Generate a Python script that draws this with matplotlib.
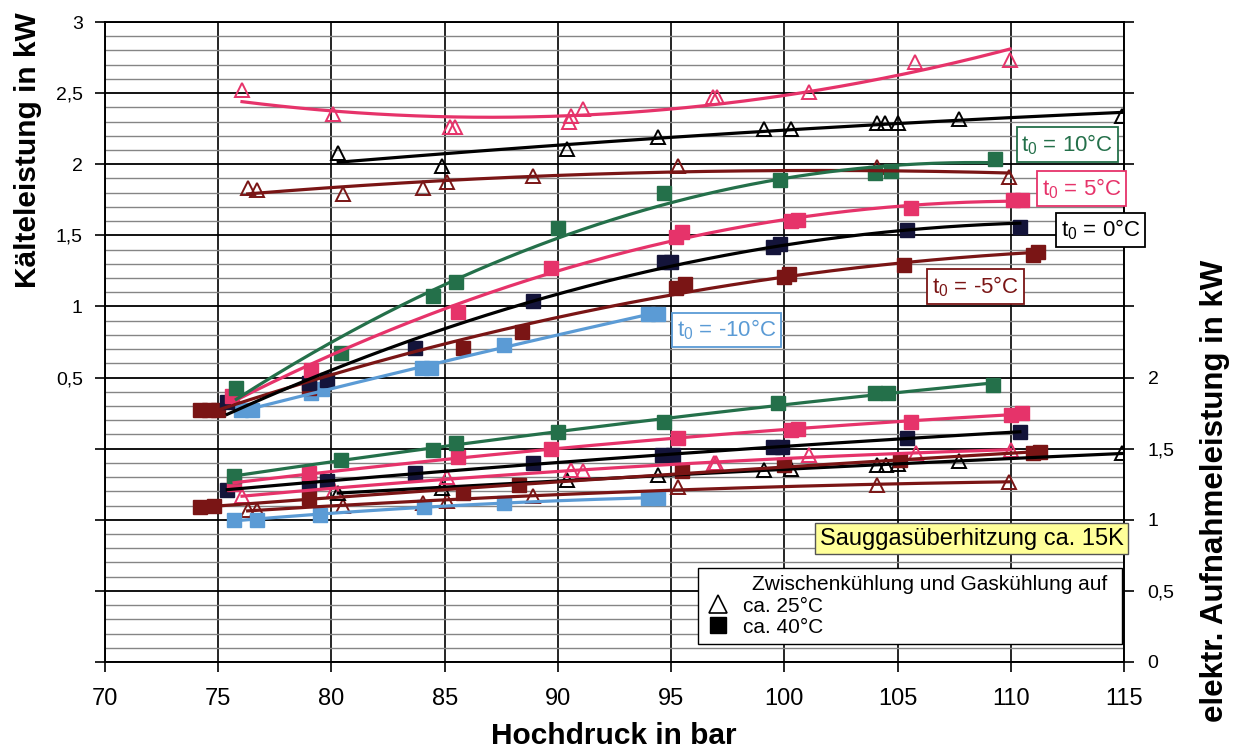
import numpy as np
import matplotlib
matplotlib.use('Agg')
import matplotlib.pyplot as plt
from matplotlib.lines import Line2D
from matplotlib.ticker import FuncFormatter

plt.rcParams['font.family'] = ['Liberation Sans', 'DejaVu Sans']
plt.rcParams['mathtext.fontset'] = 'custom'
plt.rcParams['mathtext.rm'] = 'Liberation Sans'

# --- Kälteleistung (left axis), Zwischenkühlung ca. 40°C (squares) ---
q_x_10 = [75.8, 80.4, 84.5, 85.5, 90.0, 94.7, 99.8, 104.0, 104.7, 109.3]
q_y_10 = [0.43, 0.67, 1.07, 1.17, 1.55, 1.80, 1.89, 1.94, 1.95, 2.04]
q_x_5 = [75.6, 79.1, 85.6, 89.7, 95.2, 95.5, 100.3, 100.6, 105.6, 110.1, 110.5]
q_y_5 = [0.37, 0.55, 0.96, 1.27, 1.49, 1.52, 1.60, 1.61, 1.69, 1.745, 1.745]
q_x_0 = [75.4, 79.0, 79.8, 83.7, 88.9, 94.7, 95.0, 99.5, 99.8, 105.4, 110.4]
q_y_0 = [0.33, 0.46, 0.48, 0.71, 1.04, 1.31, 1.31, 1.42, 1.44, 1.54, 1.56]
q_x_m5 = [74.2, 74.6, 75.0, 79.0, 85.8, 88.4, 95.2, 95.6, 100.0, 100.2, 105.3, 111.0, 111.2]
q_y_m5 = [0.27, 0.27, 0.27, 0.43, 0.71, 0.82, 1.13, 1.16, 1.21, 1.23, 1.29, 1.36, 1.38]
q_x_m10 = [76.0, 76.5, 79.1, 79.6, 84.0, 84.4, 87.6, 94.0, 94.4]
q_y_m10 = [0.27, 0.27, 0.39, 0.42, 0.57, 0.57, 0.73, 0.95, 0.95]

# --- Kälteleistung (left axis), ca. 25°C (triangles) ---
tq_x_5 = [76.05, 80.07, 85.24, 85.46, 90.5, 90.6, 91.1, 96.86, 97.03, 101.1, 105.78, 109.97]
tq_y_5 = [2.52, 2.35, 2.26, 2.26, 2.30, 2.34, 2.39, 2.47, 2.47, 2.51, 2.72, 2.73]
tq_x_0 = [80.3, 84.9, 90.4, 94.4, 99.1, 100.3, 104.1, 104.45, 105.0, 107.7, 114.9]
tq_y_0 = [2.08, 1.99, 2.11, 2.19, 2.25, 2.25, 2.29, 2.29, 2.29, 2.32, 2.34]
tq_x_m5 = [76.3, 76.7, 80.5, 84.05, 85.1, 88.9, 95.3, 104.1, 109.9]
tq_y_m5 = [1.83, 1.82, 1.79, 1.83, 1.875, 1.92, 1.99, 1.98, 1.91]

# --- elektr. Aufnahmeleistung (right axis), ca. 40°C (squares) ---
p_x_10 = [75.7, 80.4, 84.5, 85.5, 90.0, 94.7, 99.7, 104.0, 104.6, 109.2]
p_y_10 = [1.31, 1.42, 1.49, 1.54, 1.62, 1.69, 1.82, 1.89, 1.89, 1.95]
p_x_5 = [75.7, 79.0, 85.6, 89.7, 95.3, 100.3, 100.6, 105.6, 110.0, 110.5]
p_y_5 = [1.25, 1.33, 1.44, 1.50, 1.575, 1.63, 1.64, 1.69, 1.74, 1.75]
p_x_0 = [75.4, 79.0, 79.8, 83.7, 88.9, 94.6, 95.1, 99.5, 99.9, 105.4, 110.4]
p_y_0 = [1.21, 1.26, 1.27, 1.33, 1.40, 1.455, 1.455, 1.51, 1.51, 1.575, 1.62]
p_x_m5 = [74.2, 74.8, 79.0, 85.8, 88.3, 95.5, 100.0, 105.1, 111.0, 111.3]
p_y_m5 = [1.09, 1.10, 1.15, 1.19, 1.245, 1.34, 1.385, 1.42, 1.47, 1.48]
p_x_m10 = [75.7, 76.7, 79.5, 84.1, 87.6, 94.0, 94.4]
p_y_m10 = [1.00, 1.00, 1.035, 1.09, 1.12, 1.155, 1.155]

# --- elektr. Aufnahmeleistung (right axis), ca. 25°C (triangles) ---
tp_x_5 = [76.05, 80.1, 85.1, 90.6, 91.1, 96.9, 97.0, 101.1, 105.8, 110.0]
tp_y_5 = [1.17, 1.21, 1.30, 1.35, 1.34, 1.40, 1.40, 1.455, 1.47, 1.49]
tp_x_0 = [80.3, 84.9, 90.4, 94.4, 99.1, 100.3, 104.1, 104.5, 105.0, 107.7, 114.9]
tp_y_0 = [1.19, 1.22, 1.28, 1.315, 1.35, 1.36, 1.385, 1.385, 1.39, 1.41, 1.47]
tp_x_m5 = [76.3, 76.7, 80.5, 84.05, 85.1, 88.9, 95.3, 104.1, 109.9]
tp_y_m5 = [1.07, 1.07, 1.10, 1.12, 1.13, 1.17, 1.23, 1.245, 1.265]

c_10 = '#24704a'
c_5 = '#e6336a'
c_0 = '#14143a'
c_m5 = '#7a1515'
c_m10 = '#5b9bd5'

fig = plt.figure(figsize=(12.38, 7.5), dpi=100)
ax = fig.add_axes([105 / 1238, 88 / 750, 1019 / 1238, 640 / 750])
ax.set_xlim(70, 115)
ax.set_ylim(-1.5, 3)
ax2 = ax.twinx()
ax2.set_ylim(0, 4.5)


def comma(v):
    return ('%g' % round(v, 2)).replace('.', ',')


ax.set_xticks(np.arange(70, 115.1, 5))
ax.set_yticks(np.arange(-1.5, 3.01, 0.5))
ax.set_yticks(np.arange(-1.5, 3.01, 0.1), minor=True)
ax.yaxis.set_major_formatter(FuncFormatter(lambda v, p: comma(v) if v > 0.45 else ''))
ax2.set_yticks(np.arange(0, 4.51, 0.5))
ax2.yaxis.set_major_formatter(FuncFormatter(lambda v, p: comma(v) if v < 2.05 else ''))

ax.grid(which='minor', axis='y', color='#858585', lw=1.0)
ax.grid(which='major', axis='y', color='black', lw=1.3)
ax.grid(which='major', axis='x', color='black', lw=1.2)
ax.set_axisbelow(True)
ax.tick_params(axis='y', which='minor', length=0)
ax.tick_params(axis='y', which='major', labelsize=14, length=7, width=1.2, pad=9)
ax.tick_params(axis='x', labelsize=17, length=7, width=1.2, pad=12)
ax2.tick_params(axis='y', labelsize=14, length=7, width=1.2, pad=10)
for a in (ax, ax2):
    for s in a.spines.values():
        s.set_linewidth(1.2)


def series(a, xs, ys, color, marker, line_color=None):
    # quadratic trend line through the measured points
    xs = np.array(xs)
    ys = np.array(ys)
    coef = np.polyfit(xs, ys, 2)
    xf = np.linspace(xs.min(), xs.max(), 200)
    if marker == 's':
        a.plot(xs, ys, 's', color=color, ms=9.5, zorder=3)
    else:
        a.plot(xs, ys, '^', mfc='none', mec=color, mew=1.4, ms=9.5, zorder=3)
    a.plot(xf, np.polyval(coef, xf), color=line_color or color, lw=2.3, zorder=4)


# upper group (Kälteleistung)
series(ax, tq_x_5, tq_y_5, c_5, '^')
series(ax, tq_x_0, tq_y_0, 'black', '^')
series(ax, tq_x_m5, tq_y_m5, c_m5, '^')
series(ax, q_x_m10, q_y_m10, c_m10, 's')
series(ax, q_x_m5, q_y_m5, c_m5, 's')
series(ax, q_x_0, q_y_0, c_0, 's', 'black')
series(ax, q_x_5, q_y_5, c_5, 's')
series(ax, q_x_10, q_y_10, c_10, 's')

# lower group (elektr. Aufnahmeleistung)
series(ax2, tp_x_m5, tp_y_m5, c_m5, '^')
series(ax2, tp_x_0, tp_y_0, 'black', '^')
series(ax2, tp_x_5, tp_y_5, c_5, '^')
series(ax2, p_x_m10, p_y_m10, c_m10, 's')
series(ax2, p_x_m5, p_y_m5, c_m5, 's')
series(ax2, p_x_0, p_y_0, c_0, 's', 'black')
series(ax2, p_x_5, p_y_5, c_5, 's')
series(ax2, p_x_10, p_y_10, c_10, 's')

t0_labels = [
    (112.5, 2.14, '10°C', c_10),
    (113.13, 1.83, '5°C', c_5),
    (113.97, 1.537, '0°C', 'black'),
    (108.43, 1.14, '-5°C', c_m5),
    (97.45, 0.834, '-10°C', c_m10),
]
for x, y, t, col in t0_labels:
    ax2.text(x, y, r'$\mathregular{t_0}$ = ' + t, transform=ax.transData, fontsize=16,
             color=col, ha='center', va='center', zorder=6,
             bbox=dict(boxstyle='square,pad=0.22', fc='white', ec=col, lw=1.3))

ax2.text(108.27, 0.868, 'Sauggasüberhitzung ca. 15K', fontsize=17, ha='center', va='center',
         zorder=8, bbox=dict(boxstyle='square,pad=0.2', fc='#ffff99', ec='#555555', lw=1.0))

handles = [Line2D([], [], marker='^', ls='none', mfc='white', mec='black', mew=1.2, ms=13),
           Line2D([], [], marker='s', ls='none', color='black', ms=12)]
leg = ax2.legend(handles, ['ca. 25°C', 'ca. 40°C'],
                 title='        Zwischenkühlung und Gaskühlung auf',
                 loc='upper left', bbox_to_anchor=(96.2, -1.43, 18.7, 0.59),
                 bbox_transform=ax.transData, mode='expand', alignment='left',
                 fontsize=15, title_fontsize=15, fancybox=False, edgecolor='black',
                 framealpha=1, borderaxespad=0, borderpad=0.35, labelspacing=0.1,
                 handletextpad=0.6, handlelength=1.2)
leg.get_frame().set_linewidth(1.0)
leg.set_zorder(7)

fig.text(28 / 1238, 1 - 150 / 750, 'Kälteleistung in kW', rotation=90, fontsize=21.5,
         fontweight='bold', ha='center', va='center')
fig.text(1215 / 1238, 1 - 491 / 750, 'elektr. Aufnahmeleistung in kW', rotation=90,
         fontsize=22.5, fontweight='bold', ha='center', va='center')
fig.text(614 / 1238, 1 - 736 / 750, 'Hochdruck in bar', fontsize=21.5, fontweight='bold',
         ha='center', va='center')

fig.savefig('out.png', dpi=100)
